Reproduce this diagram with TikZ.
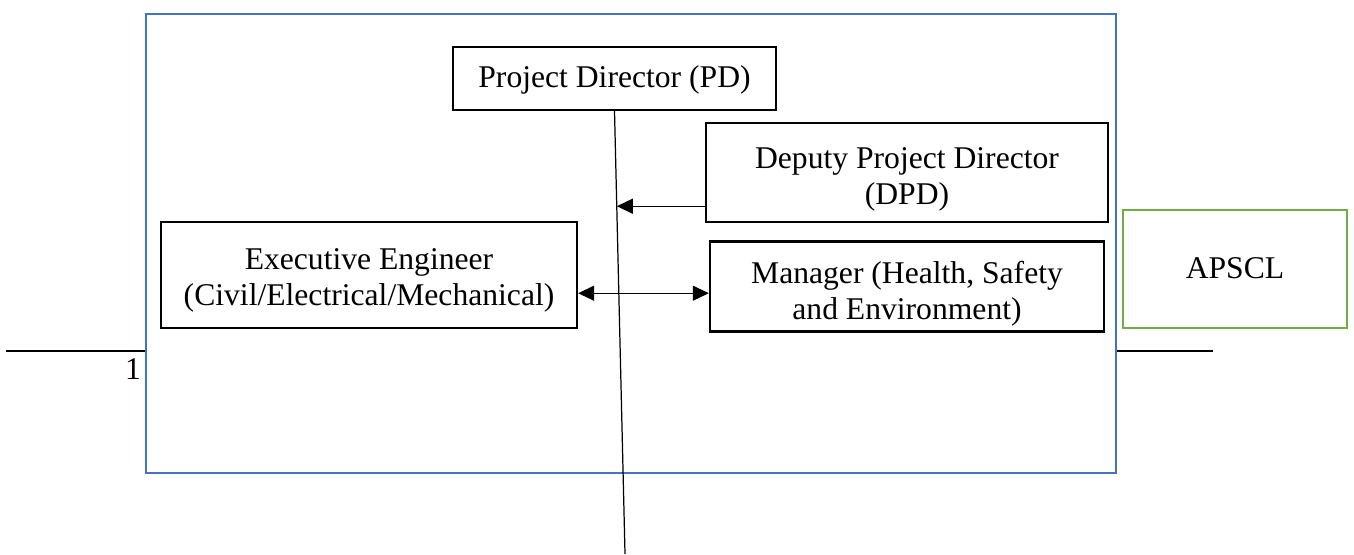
\documentclass[tikz,border=0pt]{standalone}
\usepackage{fontspec}
\setmainfont{Liberation Serif}
\usetikzlibrary{positioning,calc}
\usetikzlibrary{arrows.meta}
\definecolor{frameblue}{HTML}{4472C4}
\definecolor{boxgreen}{HTML}{70AD47}

% box text, set a little below the middle of its box
\newcommand\posttext[2]{\raisebox{-#1}[\height][\depth]{%
   \begin{tabular}{@{}c@{}}#2\end{tabular}}}

\begin{document}
\begin{tikzpicture}[x=0.02cm, y=-0.02cm,
      every node/.style = {font=\fontsize{18}{20.7}\selectfont},
      post/.style = {draw, line width=1.4pt, inner sep=0pt, align=center},
      frame/.style = {draw=frameblue, line width=1.4pt, inner sep=0pt},
      partner/.style = {draw=boxgreen, line width=1.5pt, inner sep=0pt, align=center},
      rule/.style = {line width=1.1pt},
      link/.style = {line width=0.7pt},
      order/.style = {link, -{Triangle[length=0.32cm,width=0.3cm]}},
      liaison/.style = {link, {Triangle[length=0.32cm,width=0.3cm]}-{Triangle[length=0.32cm,width=0.3cm]}}
]
   \useasboundingbox (0,0) rectangle (1354,554);

   % outer frame
   \node[frame, minimum width=19.4cm, minimum height=9.18cm] (frame) at (631,243.5) {};

   % page rules and footnote mark
   \coordinate (ruleW) at (6,351);
   \coordinate (ruleE) at (1213,351);
   \draw[rule] (ruleW) -- (ruleW -| frame.west);
   \draw[rule] (ruleE -| frame.east) -- (ruleE);
   \node (fnmark) at (133,369) {1};

   % posts
   \node[post, minimum width=6.46cm, minimum height=1.26cm] (pd) at (614.5,78.5)
      {\posttext{0.04cm}{Project Director (PD)}};
   \node[post, minimum width=8.04cm, minimum height=1.98cm] (dpd) at (907,172.5)
      {\posttext{0.14cm}{Deputy Project Director\\(DPD)}};
   \node[post, minimum width=7.88cm, minimum height=1.8cm, below=0.34cm of dpd] (mgr)
      {\posttext{0.15cm}{Manager (Health, Safety\\and Environment)}};
   \node[post, minimum width=8.32cm, minimum height=2.12cm] (ee) at (369,275)
      {\posttext{0.1cm}{Executive Engineer\\(Civil/Electrical/Mechanical)}};

   % owner
   \node[partner, minimum width=4.48cm, minimum height=2.36cm] (apscl) at (1235,269)
      {\posttext{0.04cm}{APSCL}};

   % line of command
   \coordinate (pdfoot) at (625,554);
   \draw[link] (pd.south) -- (pdfoot);

   \coordinate (dpdtail) at ($(dpd.south west)+(0,-17)$);
   \draw[order] (dpdtail) -- (dpdtail -| {$(pd.south)!(dpdtail)!(pdfoot)$});

   \coordinate (eetail) at ($(ee.south east)+(0,-36)$);
   \draw[liaison] (eetail) -- (eetail -| mgr.west);
\end{tikzpicture}
\end{document}
